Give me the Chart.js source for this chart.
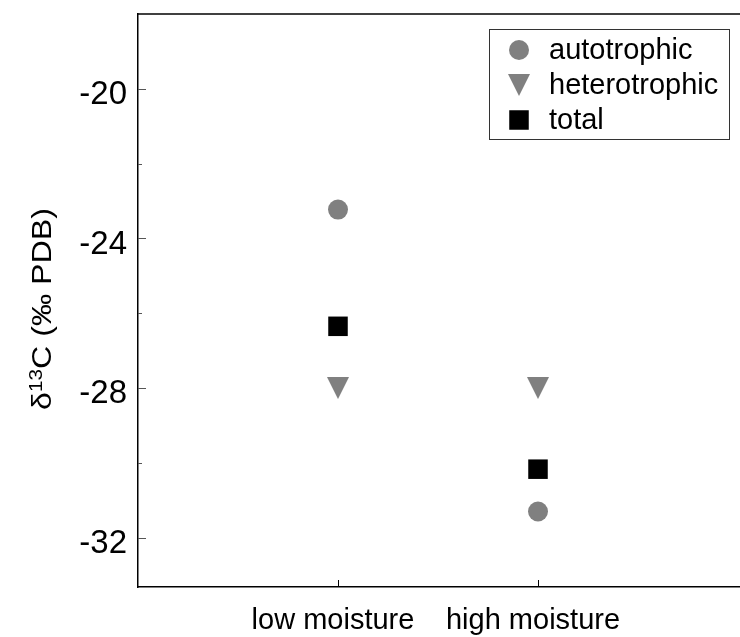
<!DOCTYPE html>
<html lang="en">
<head>
<meta charset="UTF-8">
<title>δ13C of respired CO2 by moisture</title>
<script src="https://cdn.jsdelivr.net/npm/chart.js"></script>
<style>
  body { margin: 0; background: #fff; }
  #chart-container { width: 740px; height: 637px; position: relative; }
</style>
</head>
<body>
<div id="chart-container"><canvas id="isotopeChart"></canvas></div>
<script>
// moisture treatments, left to right
const moistureLevels = ["low moisture", "high moisture"];

// δ13C (‰ PDB) per source of respiration
const autotrophic = [-23.23, -31.30];
const heterotrophic = [-28.0, -28.0];
const total = [-26.35, -30.17];

// labelled and unlabelled y ticks
const yMajorTicks = [-32, -28, -24, -20];
const yMinorTicks = [-30, -26, -22];

const FONT = "'Liberation Sans', Arial, sans-serif";
const GREY = "#808080";

// downward triangle marker drawn into a small sprite
function downTriangle(size, color) {
  const c = document.createElement("canvas");
  c.width = size;
  c.height = size;
  const g = c.getContext("2d");
  g.fillStyle = color;
  g.beginPath();
  g.moveTo(0, 0);
  g.lineTo(size, 0);
  g.lineTo(size / 2, size);
  g.closePath();
  g.fill();
  return c;
}

const toPoints = values => values.map((v, i) => ({ x: i + 1, y: v }));

const datasets = [
  { label: "autotrophic", data: toPoints(autotrophic), pointStyle: "circle", pointRadius: 10, backgroundColor: GREY },
  { label: "heterotrophic", data: toPoints(heterotrophic), pointStyle: downTriangle(22, GREY), pointRadius: 11, backgroundColor: GREY },
  { label: "total", data: toPoints(total), pointStyle: "rect", pointRadius: 13.8, backgroundColor: "#000" }
].map(ds => ({ ...ds, pointBorderWidth: 0, pointHoverRadius: ds.pointRadius, showLine: false }));

function line(ctx, x1, y1, x2, y2) {
  ctx.beginPath();
  ctx.moveTo(x1, y1);
  ctx.lineTo(x2, y2);
  ctx.stroke();
}

// top edge, inward ticks, rotated y title and boxed legend
const decorations = {
  id: "decorations",
  afterDraw(chart) {
    const { ctx, chartArea: a, scales: { x, y } } = chart;
    ctx.save();

    ctx.strokeStyle = "#000";
    ctx.lineWidth = 1.5;
    line(ctx, a.left, a.top, a.right, a.top);

    ctx.lineWidth = 1;
    ctx.strokeStyle = "#555";
    yMajorTicks.forEach(v => {
      const py = Math.round(y.getPixelForValue(v)) + 0.5;
      line(ctx, a.left, py, a.left + 8, py);
    });
    yMinorTicks.forEach(v => {
      const py = Math.round(y.getPixelForValue(v)) + 0.5;
      line(ctx, a.left, py, a.left + 4, py);
    });
    ctx.strokeStyle = "#000";
    moistureLevels.forEach((_, i) => {
      const px = Math.round(x.getPixelForValue(i + 1)) + 0.5;
      line(ctx, px, a.bottom, px, a.bottom - 7);
    });

    // y axis title: δ13C (‰ PDB) with superscript 13
    ctx.save();
    ctx.translate(51, 309);
    ctx.rotate(-Math.PI / 2);
    ctx.scale(1.15, 1);
    ctx.fillStyle = "#000";
    ctx.textBaseline = "alphabetic";
    const parts = [
      ["δ", `28px ${FONT}`, 0],
      ["13", `18px ${FONT}`, -9],
      ["C (‰ PDB)", `28px ${FONT}`, 0]
    ];
    let width = 0;
    parts.forEach(([t, f]) => { ctx.font = f; width += ctx.measureText(t).width; });
    let tx = -width / 2;
    parts.forEach(([t, f, dy]) => {
      ctx.font = f;
      ctx.fillText(t, tx, dy);
      tx += ctx.measureText(t).width;
    });
    ctx.restore();

    // legend
    ctx.strokeStyle = "#333";
    ctx.lineWidth = 1;
    ctx.strokeRect(489.5, 29.5, 240, 110);
    ctx.font = `29px ${FONT}`;
    ctx.textBaseline = "alphabetic";
    chart.data.datasets.forEach((ds, i) => {
      const base = 59 + i * 35;
      ctx.fillStyle = ds.backgroundColor;
      Chart.helpers.drawPoint(ctx, {
        pointStyle: ds.pointStyle, radius: ds.pointRadius, rotation: 0, borderWidth: 0
      }, 519, base - 9);
      ctx.fillStyle = "#000";
      ctx.fillText(ds.label, 549, base);
    });

    ctx.restore();
  }
};

new Chart(document.getElementById("isotopeChart"), {
  type: "scatter",
  data: { datasets },
  options: {
    responsive: true,
    maintainAspectRatio: false,
    animation: false,
    events: [],
    layout: { autoPadding: false, padding: { top: 14, right: 0, bottom: 0, left: 0 } },
    plugins: {
      legend: { display: false },
      tooltip: { enabled: false }
    },
    scales: {
      x: {
        type: "linear",
        min: 0,
        max: 3.01,
        afterBuildTicks: scale => {
          scale.ticks = moistureLevels.map((_, i) => ({ value: i + 1 }));
        },
        afterFit: scale => {
          scale.height = 50;
          scale.paddingLeft = 0;
          scale.paddingRight = 0;
        },
        grid: { drawOnChartArea: false, drawTicks: false },
        border: { display: true, color: "#000", width: 1.5 },
        ticks: {
          color: "#000",
          padding: 17,
          labelOffset: -5,
          maxRotation: 0,
          autoSkip: false,
          font: { family: FONT, size: 29 },
          callback: v => moistureLevels[v - 1]
        }
      },
      y: {
        min: -33.32,
        max: -18,
        afterBuildTicks: scale => {
          scale.ticks = yMajorTicks.map(v => ({ value: v }));
        },
        afterFit: scale => {
          scale.width = 138;
          scale.paddingTop = 0;
          scale.paddingBottom = 0;
        },
        grid: { drawOnChartArea: false, drawTicks: false },
        border: { display: true, color: "#000", width: 1.5 },
        ticks: {
          color: "#000",
          padding: 11,
          labelOffset: 6,
          font: { family: FONT, size: 33 },
          callback: v => String(v)
        }
      }
    }
  },
  plugins: [decorations]
});
</script>
</body>
</html>
